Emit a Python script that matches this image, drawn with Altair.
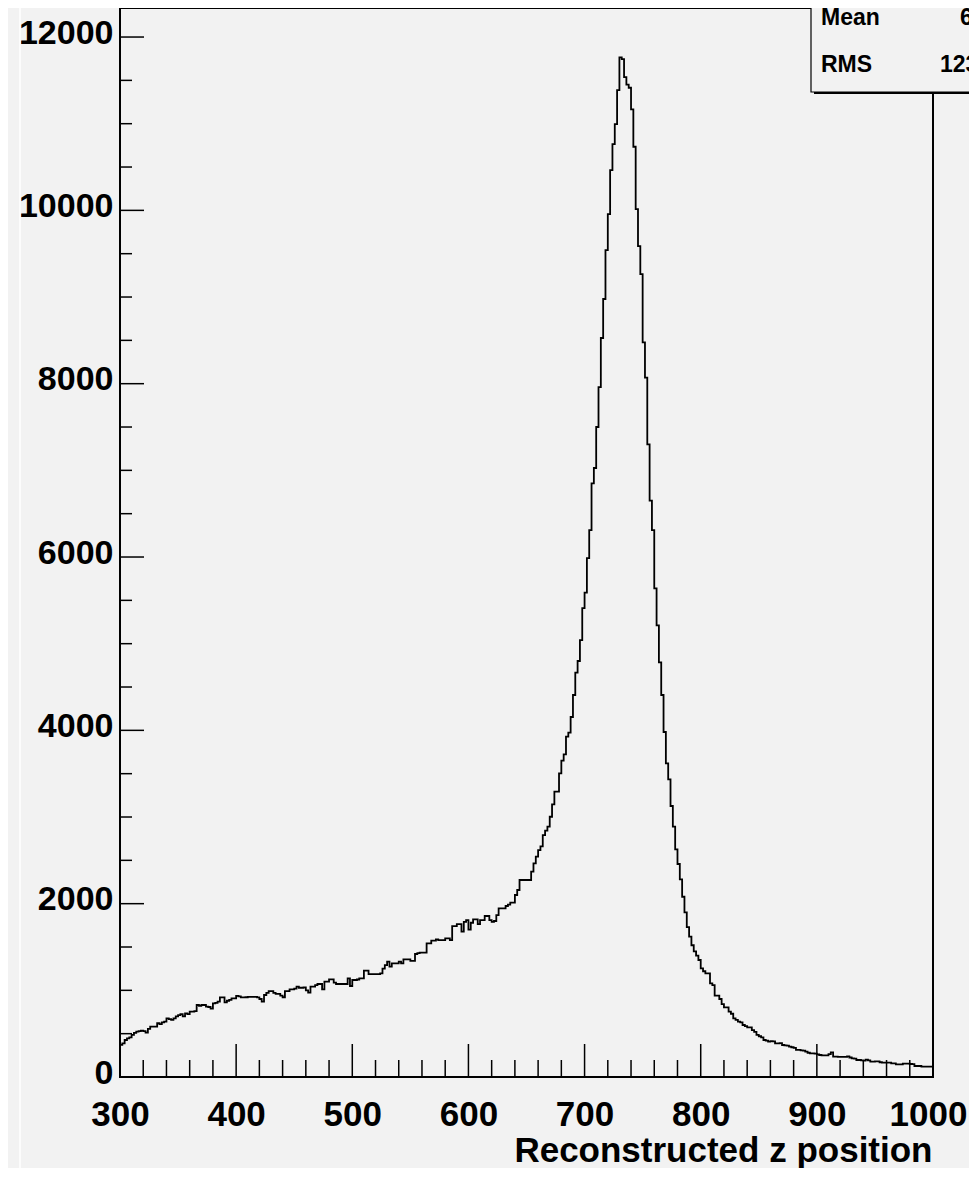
import altair as alt
import pandas as pd

FONT = "Liberation Sans"

# ---- histogram (bin width 2, 300..1000) ----
BIN_START = 300
BIN_WIDTH = 2

counts_300_400 = [370, 389, 427, 445, 458, 485, 510, 523, 530, 535,
                  530, 512, 555, 581, 581, 581, 620, 610, 630, 638,
                  677, 668, 660, 677, 700, 715, 725, 700, 735, 725,
                  754, 754, 760, 831, 820, 831, 831, 812, 808, 790,
                  850, 855, 869, 919, 919, 860, 880, 890, 908, 908]
counts_400_500 = [935, 930, 919, 919, 920, 925, 925, 925, 925, 919,
                  900, 869, 946, 970, 992, 992, 970, 960, 960, 940,
                  920, 990, 990, 1012, 1012, 1020, 1042, 1030, 1030, 1035,
                  1000, 973, 1042, 1042, 1060, 1073, 1073, 1010, 1100, 1100,
                  1127, 1127, 1090, 1073, 1073, 1073, 1073, 1073, 1139, 1050]
counts_500_600 = [1119, 1119, 1125, 1139, 1139, 1227, 1227, 1188, 1188, 1188,
                  1188, 1188, 1196, 1250, 1292, 1331, 1273, 1312, 1312, 1312,
                  1331, 1312, 1358, 1358, 1358, 1340, 1340, 1419, 1430, 1435,
                  1435, 1435, 1542, 1542, 1573, 1573, 1588, 1580, 1580, 1580,
                  1600, 1600, 1580, 1742, 1742, 1765, 1765, 1677, 1790, 1811]
counts_600_700 = [1700, 1780, 1819, 1819, 1765, 1811, 1811, 1858, 1858, 1811,
                  1790, 1800, 1869, 1946, 1946, 1946, 1973, 1990, 2011, 2011,
                  2100, 2158, 2273, 2273, 2273, 2273, 2273, 2369, 2465, 2542,
                  2619, 2660, 2790, 2842, 2888, 3003, 3146, 3292, 3292, 3504,
                  3650, 3723, 3927, 3973, 4154, 4408, 4665, 4800, 5042, 5411]
counts_700_800 = [5588, 5988, 6311, 6850, 7027, 7500, 7961, 8527, 8977, 9542,
                  9957, 10465, 10765, 10996, 11388, 11765, 11745, 11538, 11450, 11415,
                  11165, 10734, 10015, 9588, 9265, 8477, 8069, 7300, 6650, 6311,
                  5638, 5211, 4785, 4408, 3981, 3619, 3435, 3127, 2888, 2627,
                  2458, 2281, 2080, 1900, 1730, 1620, 1520, 1450, 1400, 1350]
counts_800_900 = [1254, 1220, 1196, 1196, 1081, 1061, 938, 938, 900, 842,
                  804, 804, 754, 730, 677, 660, 638, 630, 600, 588,
                  573, 573, 542, 520, 485, 470, 458, 427, 420, 408,
                  415, 410, 389, 389, 392, 369, 365, 362, 350, 343,
                  335, 312, 312, 308, 305, 292, 280, 273, 273, 270]
counts_900_1000 = [260, 254, 250, 250, 250, 265, 285, 235, 235, 232,
                   232, 232, 232, 238, 225, 215, 212, 196, 196, 192,
                   188, 200, 192, 177, 177, 180, 180, 170, 165, 165,
                   167, 165, 158, 158, 146, 146, 146, 154, 154, 154,
                   150, 148, 127, 127, 127, 119, 119, 119, 119, 119]

counts = (counts_300_400 + counts_400_500 + counts_500_600 + counts_600_700
          + counts_700_800 + counts_800_900 + counts_900_1000)
edges = [BIN_START + BIN_WIDTH * i for i in range(len(counts))]
X_END = BIN_START + BIN_WIDTH * len(counts)

# ---- axis ticks / labels ----
x_major = [300, 400, 500, 600, 700, 800, 900, 1000]
x_minor = [320, 340, 360, 380, 420, 440, 460, 480, 520, 540, 560, 580,
           620, 640, 660, 680, 720, 740, 760, 780, 820, 840, 860, 880,
           920, 940, 960, 980]
y_major = [0, 2000, 4000, 6000, 8000, 10000, 12000]
y_minor = [500, 1000, 1500, 2500, 3000, 3500, 4500, 5000, 5500, 6500, 7000,
           7500, 8500, 9000, 9500, 10500, 11000, 11500]

stat_names = ["Mean", "RMS"]
stat_values = ["604.3", "123.5"]

X_TITLE = "Reconstructed z position"

W, H = 813, 1069
xs = alt.Scale(domain=[300, 1000], nice=False, zero=False)
ys = alt.Scale(domain=[0, 12335], nice=False, zero=True)

x_axis = alt.Axis(
    values=x_major, format="d", ticks=False, domain=False,
    grid=False, labelFont=FONT, labelFontSize=35, labelFontWeight="bold",
    labelColor="black", labelPadding=20, labelFlush=False, labelOverlap=False,
    labelOffset={"condition": {"test": "datum.value >= 1000", "value": -5}, "value": 0},
    title=X_TITLE, titleFont=FONT, titleFontSize=35, titleFontWeight="bold",
    titleColor="black", titleX=812, titleY=84, titleAlign="right",
    titleBaseline="alphabetic", titleAnchor="end")
y_axis = alt.Axis(
    values=y_major, format="d", ticks=False, domain=False,
    grid=False, labelFont=FONT, labelFontSize=34, labelFontWeight="bold",
    labelColor="black", labelPadding=7, labelOffset=-4, labelFlush=False,
    labelOverlap=False)

hist = pd.DataFrame({"z": edges + [X_END], "n": counts + [counts[-1]]})
one = pd.DataFrame({"a": [0]})

white_line = alt.Chart(one).mark_rule(color="white", strokeWidth=1.5).encode(
    x=alt.value(-100), y=alt.value(-10), y2=alt.value(1180))

frame = alt.Chart(one).mark_rect(filled=False, stroke="black", strokeWidth=2).encode(
    x=alt.value(0), x2=alt.value(W), y=alt.value(0), y2=alt.value(H))

line = alt.Chart(hist).mark_line(interpolate="step-after", color="black",
                                 strokeWidth=1.8).encode(
    x=alt.X("z:Q", scale=xs, axis=x_axis),
    y=alt.Y("n:Q", scale=ys, title=None, axis=y_axis),
)

xmaj = alt.Chart(pd.DataFrame({"z": x_major})).mark_rule(color="black", strokeWidth=1.5).encode(
    x=alt.X("z:Q", scale=xs, axis=x_axis), y=alt.value(H), y2=alt.value(H - 33))
xmin = alt.Chart(pd.DataFrame({"z": x_minor})).mark_rule(color="black", strokeWidth=1.5).encode(
    x=alt.X("z:Q", scale=xs, axis=x_axis), y=alt.value(H), y2=alt.value(H - 17))
ymaj = alt.Chart(pd.DataFrame({"n": y_major})).mark_rule(color="black", strokeWidth=1.5).encode(
    y=alt.Y("n:Q", scale=ys, title=None, axis=y_axis), x=alt.value(0), x2=alt.value(24))
ymin = alt.Chart(pd.DataFrame({"n": y_minor})).mark_rule(color="black", strokeWidth=1.5).encode(
    y=alt.Y("n:Q", scale=ys, title=None, axis=y_axis), x=alt.value(0), x2=alt.value(12))

shadow = alt.Chart(one).mark_rect(color="black").encode(
    x=alt.value(694), x2=alt.value(920), y=alt.value(-20), y2=alt.value(86))
box = alt.Chart(one).mark_rect(fill="#f2f2f2", stroke="black", strokeWidth=1.2).encode(
    x=alt.value(691), x2=alt.value(918), y=alt.value(-20), y2=alt.value(84))

stats = pd.DataFrame({"name": stat_names, "val": stat_values,
                      "yy": [17, 64], "vx": [840, 820]})
stat_names_txt = alt.Chart(stats).mark_text(
    align="left", baseline="alphabetic", font=FONT, fontSize=23,
    fontWeight="bold", color="black").encode(
    x=alt.value(701), y=alt.Y("yy:Q", scale=None), text="name:N")
stat_vals_txt = alt.Chart(stats).mark_text(
    align="left", baseline="alphabetic", font=FONT, fontSize=23,
    fontWeight="bold", color="black").encode(
    x=alt.X("vx:Q", scale=None), y=alt.Y("yy:Q", scale=None), text="val:N")

chart = alt.layer(
    white_line, frame, line, xmaj, xmin, ymaj, ymin,
    shadow, box, stat_names_txt, stat_vals_txt,
).properties(
    width=W, height=H,
    autosize=alt.AutoSizeParams(type="none"),
    padding={"left": 112, "top": 0, "right": 36, "bottom": 91},
    background="#f2f2f2",
).configure_view(stroke=None)

chart.save("out.html", embed_options={"renderer": "svg", "actions": False})
